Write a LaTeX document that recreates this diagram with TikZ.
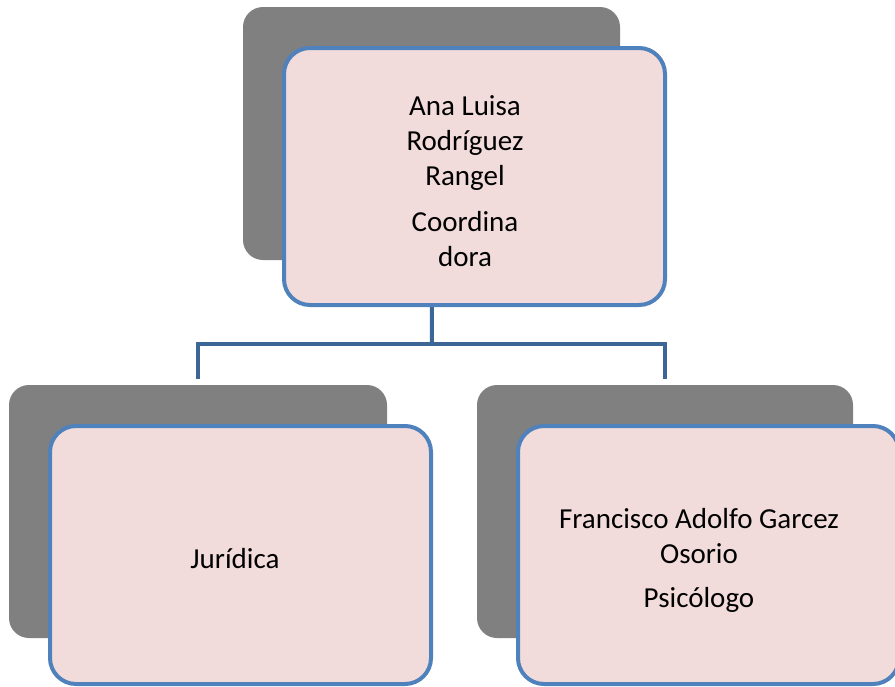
\documentclass[tikz,border=0pt]{standalone}
\usepackage{fontspec}
\setmainfont{Carlito}
\definecolor{shadowgray}{HTML}{808080}
\definecolor{boxpink}{HTML}{F2DCDB}
\definecolor{boxblue}{HTML}{4F81BD}
\definecolor{linkblue}{HTML}{3C6696}
\tikzset{
  graybox/.style={fill=shadowgray, draw=none, rounded corners=20pt, inner sep=0pt},
  pinkbox/.style={fill=boxpink, draw=boxblue, line width=4pt, rounded corners=26pt, inner sep=0pt},
  conn/.style={draw=linkblue, line width=4pt},
  label/.style={font=\fontsize{29}{35}\selectfont, align=center, text=black, inner sep=0pt}
}
\begin{document}
\begin{tikzpicture}[x=1pt,y=-1pt]
\useasboundingbox (0,0) rectangle (895,686);
% shadow boxes
\node[graybox, minimum width=377pt, minimum height=253pt] (g0) at (431.5,133.5) {};
\node[graybox, minimum width=378pt, minimum height=253pt] (g1) at (198,511.5) {};
\node[graybox, minimum width=376pt, minimum height=253pt] (g2) at (665,511.5) {};
% connectors
\coordinate (j) at (432,344);
\draw[conn] (g0.south) -- (j);
\draw[conn, shorten >=6pt] (j) -| (g1.north);
\draw[conn, shorten >=6pt] (j) -| (g2.north);
% front boxes
\node[pinkbox, minimum width=381pt, minimum height=257pt] (b0) at (474.5,176.5) {};
\node[pinkbox, minimum width=381pt, minimum height=258pt] (b1) at (240.5,555) {};
\node[pinkbox, minimum width=381pt, minimum height=258pt] (b2) at (708.5,555) {};
% texts
\node[label] (t0) at (465,181) {Ana Luisa\\Rodríguez\\Rangel\\[11pt]Coordina\\dora};
\node[label, anchor=base] (t1) at (235,568) {Jurídica};
\node[label] (t2) at (699,560) {Francisco Adolfo Garcez\\Osorio\\[9pt]Psicólogo};
\end{tikzpicture}
\end{document}
